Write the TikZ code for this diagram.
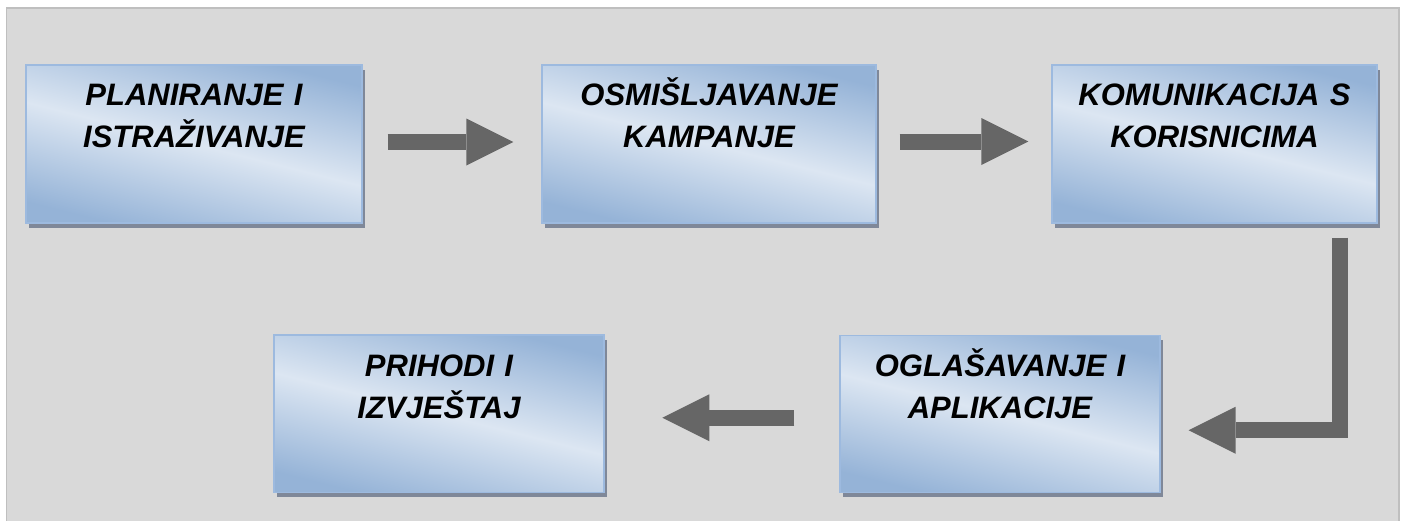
\documentclass[tikz,border=0pt]{standalone}
\usepackage{fontspec}
\setmainfont{Liberation Sans}
\usepackage{tikz}
\usetikzlibrary{arrows.meta,shadows}

\definecolor{paneFill}{HTML}{D9D9D9}
\definecolor{paneLine}{HTML}{BFBFBF}
\definecolor{boxDark}{HTML}{95B3D7}
\definecolor{boxLight}{HTML}{DCE6F2}
\definecolor{boxLine}{HTML}{9DBADF}
\definecolor{boxShadow}{HTML}{7F8899}
\definecolor{arrowGray}{HTML}{666666}

\begin{document}
\begin{tikzpicture}[x=1pt, y=-1pt,
    stage/.style={rectangle, draw=boxLine, line width=1.2pt, inner sep=0pt,
        top color=boxDark, bottom color=boxDark, middle color=boxLight, shading angle=-14,
        drop shadow={shadow xshift=3pt, shadow yshift=-4.5pt, fill=boxShadow, opacity=1},
        minimum height=158pt},
    stagetext/.style={anchor=base, text width=320pt, align=center, inner sep=0pt,
        font=\fontsize{31}{42}\selectfont\bfseries\itshape},
    flow/.style={draw=arrowGray, line width=16pt,
        -{Triangle[length=47pt, width=47pt, line width=0pt]}}]
    \useasboundingbox (0,0) rectangle (1406,520);
    % Background panel
    \fill[white] (0,0) rectangle (1406,520);
    \draw[paneLine, fill=paneFill, line width=1.5pt] (6.5,8) rectangle (1399,530);

    % Top row
    \node[stage, minimum width=336pt] (plan) at (194,144) {};
    \node[stagetext] (plan-t) at ([yshift=-41pt]plan.north) {PLANIRANJE I\\ISTRAŽIVANJE};
    \node[stage, minimum width=334pt] (idea) at (709,144) {};
    \node[stagetext] (idea-t) at ([yshift=-41pt]idea.north) {OSMIŠLJAVANJE\\KAMPANJE};
    \node[stage, minimum width=325pt] (talk) at (1214.5,144) {};
    \node[stagetext] (talk-t) at ([yshift=-41pt]talk.north) {KOMUNIKACIJA S\\KORISNICIMA};

    % Bottom row
    \node[stage, minimum width=330pt, minimum height=157.5pt] (income) at (439,413.75) {};
    \node[stagetext] (income-t) at ([yshift=-42pt]income.north) {PRIHODI I\\IZVJEŠTAJ};
    \node[stage, minimum width=320pt, minimum height=157pt] (ads) at (1000,413.75) {};
    \node[stagetext] (ads-t) at ([yshift=-42pt]ads.north) {OGLAŠAVANJE I\\APLIKACIJE};

    % Arrows
    \draw[flow] ([xshift=25pt,yshift=2pt]plan.east) -- ([xshift=-28pt,yshift=2pt]idea.west);
    \draw[flow] ([xshift=23pt,yshift=2.5pt]idea.east) -- ([xshift=-23pt,yshift=2.5pt]talk.west);
    \draw[flow] ([xshift=-38pt,yshift=-14pt]talk.south east) |- ([xshift=28pt,yshift=-16.5pt]ads.east);
    \draw[flow] ([xshift=-45pt,yshift=-4pt]ads.west) -- ([xshift=57.7pt,yshift=-4pt]income.east);
\end{tikzpicture}
\end{document}
